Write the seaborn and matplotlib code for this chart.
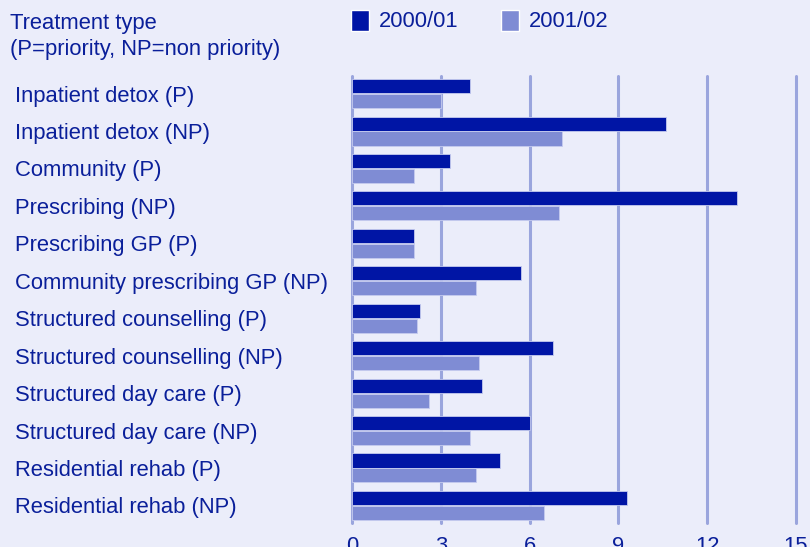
import matplotlib
matplotlib.use("Agg")
import matplotlib.pyplot as plt
from matplotlib.patches import Patch
import pandas as pd
import seaborn as sns

categories = [
    "Inpatient detox (P)",
    "Inpatient detox (NP)",
    "Community (P)",
    "Prescribing (NP)",
    "Prescribing GP (P)",
    "Community prescribing GP (NP)",
    "Structured counselling (P)",
    "Structured counselling (NP)",
    "Structured day care (P)",
    "Structured day care (NP)",
    "Residential rehab (P)",
    "Residential rehab (NP)",
]
values_2000 = [4.0, 10.6, 3.3, 13.0, 2.1, 5.7, 2.3, 6.8, 4.4, 6.0, 5.0, 9.3]
values_2001 = [3.0, 7.1, 2.1, 7.0, 2.1, 4.2, 2.2, 4.3, 2.6, 4.0, 4.2, 6.5]
years = ["2000/01", "2001/02"]
x_ticks = [0, 3, 6, 9, 12, 15]

BG = "#ebedfa"
DARK = "#0015a5"
LIGHT = "#7f8cd4"
GRID = "#9aa5dd"
TEXT = "#0a1f9a"
FS = 15.8

df = pd.DataFrame({
    "category": categories * 2,
    "year": [years[0]] * len(categories) + [years[1]] * len(categories),
    "value": values_2000 + values_2001,
})

sns.set_theme(style="white")
plt.rcParams["font.family"] = ["Liberation Sans", "DejaVu Sans"]

fig = plt.figure(figsize=(8.1, 5.47), dpi=100, facecolor=BG)
ax = fig.add_axes([352 / 810, 24 / 547, 444 / 810, 447 / 547])
ax.set_facecolor(BG)

sns.barplot(data=df, y="category", x="value", hue="year", orient="h",
            palette=[DARK, LIGHT], saturation=1, width=0.8, gap=0.06,
            edgecolor="#c5cbef", linewidth=0.6, legend=False, ax=ax, zorder=3)

ax.set_xlim(0, 15)
ax.set_ylim(len(categories) - 0.53, -0.47)
ax.set_xticks(x_ticks)
for x in x_ticks:
    ax.axvline(x, color=GRID, lw=2.2, zorder=1, clip_on=False)
for s in ax.spines.values():
    s.set_visible(False)
ax.set_xlabel("")
ax.set_ylabel("")
ax.tick_params(axis="x", length=0, pad=9, labelsize=FS, labelcolor=TEXT)
ax.tick_params(axis="y", length=0, pad=337 * 0.72, labelsize=FS, labelcolor=TEXT)
for lab in ax.get_yticklabels():
    lab.set_ha("left")

fig.text(10 / 810, 1 - 23 / 547, "Treatment type", color=TEXT, fontsize=FS, va="center")
fig.text(10 / 810, 1 - 49 / 547, "(P=priority, NP=non priority)", color=TEXT,
         fontsize=FS, va="center")

handles = [Patch(facecolor=DARK), Patch(facecolor=LIGHT)]
fig.legend(handles, years, loc="center left", bbox_to_anchor=(331 / 810, 1 - 21 / 547),
           ncol=2, frameon=False, fontsize=FS, labelcolor=TEXT, handlelength=0.85,
           handleheight=1.1, handletextpad=0.45, columnspacing=1.9)

fig.savefig("out.png", dpi=100, facecolor=BG)
